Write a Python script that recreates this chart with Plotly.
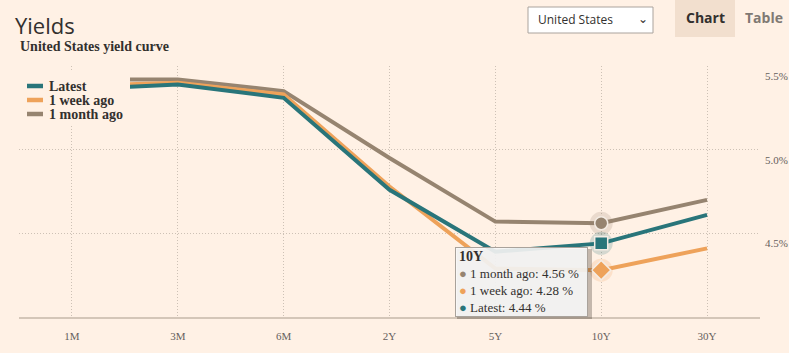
import plotly.graph_objects as go

# ---- data ----
maturities = ["1M", "3M", "6M", "2Y", "5Y", "10Y", "30Y"]
latest = [5.36, 5.39, 5.31, 4.76, 4.39, 4.44, 4.61]
week_ago = [5.38, 5.40, 5.33, 4.78, 4.29, 4.28, 4.41]
month_ago = [5.42, 5.42, 5.35, 4.95, 4.57, 4.56, 4.70]
y_ticks = [4.5, 5.0, 5.5]
hover_cat = "10Y"

BG = "#fff1e5"
C_LATEST = "#29757a"
C_WEEK = "#eea25a"
C_MONTH = "#968470"
GRID = "#cdc1b5"

W, H = 789, 353
ML, MR, MT, MB = 19, 29, 66, 36
PW, PH = W - ML - MR, H - MT - MB


def px(x):
    return (x - ML) / PW


def py(y):
    return (H - MB - y) / PH


series = [
    ("1 month ago", month_ago, C_MONTH, "circle"),
    ("1 week ago", week_ago, C_WEEK, "diamond"),
    ("Latest", latest, C_LATEST, "square"),
]

fig = go.Figure()
for name, vals, col, _ in series:
    fig.add_trace(go.Scatter(x=maturities, y=vals, mode="lines", name=name,
                             line=dict(color=col, width=4),
                             hoverinfo="skip", showlegend=False))

hi = maturities.index(hover_cat)
for name, vals, col, sym in series:
    fig.add_trace(go.Scatter(x=[maturities[hi]], y=[vals[hi]], mode="markers",
                             showlegend=False, hoverinfo="skip",
                             marker=dict(symbol="circle", size=23, color=col, opacity=0.2)))
    fig.add_trace(go.Scatter(x=[maturities[hi]], y=[vals[hi]], mode="markers",
                             showlegend=False, hoverinfo="skip",
                             marker=dict(symbol=sym, size=13 if sym != "diamond" else 15, color=col,
                                         line=dict(color="#f4ece4", width=1.5))))

serif = "Georgia, 'Liberation Serif', 'DejaVu Serif', serif"
sans = "'Segoe UI', 'Open Sans', 'Noto Sans', sans-serif"

fig.update_layout(
    width=W, height=H,
    margin=dict(l=ML, r=MR, t=MT, b=MB, autoexpand=False),
    paper_bgcolor=BG, plot_bgcolor=BG,
    showlegend=False,
    xaxis=dict(type="category", range=[-0.5, 6.5], showgrid=True,
               gridcolor=GRID, griddash="1px,2px", gridwidth=1,
               showline=True, linecolor="#d4c6b8", linewidth=2,
               ticks="", ticklabelstandoff=8, automargin=False,
               tickfont=dict(family=serif, size=11, color="#66605c"),
               zeroline=False, fixedrange=True),
    yaxis=dict(range=[4.0, 5.5], side="right", tickvals=y_ticks,
               ticktext=[f"{v:.1f}%" for v in y_ticks], automargin=False,
               showgrid=True, gridcolor=GRID, griddash="1px,2px", gridwidth=1,
               zeroline=False, ticks="", ticklabelshift=10, ticklabelstandoff=4,
               tickfont=dict(family=serif, size=11, color="#66605c"),
               fixedrange=True),
)

shapes = []
annotations = []

# title + subtitle
annotations.append(dict(xref="paper", yref="paper", x=px(13), y=py(25), xanchor="left", yanchor="middle",
                        text="Yields", showarrow=False,
                        font=dict(family=sans, size=22, color="#33302e")))
annotations.append(dict(xref="paper", yref="paper", x=px(18), y=py(46), xanchor="left", yanchor="middle",
                        text="<b>United States yield curve</b>", showarrow=False,
                        font=dict(family=serif, size=14, color="#33302e")))

# legend box (opaque, covers lines like the original)
shapes.append(dict(type="rect", xref="paper", yref="paper", x0=px(19), x1=px(130), y0=py(124), y1=py(71),
                   fillcolor=BG, line=dict(width=0), layer="above"))
leg_rows = [86, 100, 114]
for (name, vals, col, _), yy in zip(reversed(series), leg_rows):
    shapes.append(dict(type="line", xref="paper", yref="paper", x0=px(27), x1=px(43), y0=py(yy), y1=py(yy),
                       line=dict(color=col, width=4.5), layer="above"))
    annotations.append(dict(xref="paper", yref="paper", x=px(47), y=py(yy), xanchor="left", yanchor="middle",
                            text=f"<b>{name}</b>", showarrow=False,
                            font=dict(family=serif, size=14, color="#33302e")))

# dropdown box
shapes.append(dict(type="rect", xref="paper", yref="paper", x0=px(528), x1=px(653), y0=py(33), y1=py(7),
                   fillcolor="white", line=dict(color="#aaa39d", width=1), layer="above"))
annotations.append(dict(xref="paper", yref="paper", x=px(536), y=py(20), xanchor="left", yanchor="middle",
                        text="United States", showarrow=False,
                        font=dict(family=sans, size=12, color="#33302e")))
annotations.append(dict(xref="paper", yref="paper", x=px(643), y=py(19), xanchor="center", yanchor="middle",
                        text="&#8964;", showarrow=False,
                        font=dict(family=sans, size=12, color="#33302e")))

# Chart / Table tabs
shapes.append(dict(type="rect", xref="paper", yref="paper", x0=px(675), x1=px(735), y0=py(37), y1=py(0),
                   fillcolor="#f2dfce", line=dict(width=0), layer="above"))
annotations.append(dict(xref="paper", yref="paper", x=px(705), y=py(18), xanchor="center", yanchor="middle",
                        text="<b>Chart</b>", showarrow=False,
                        font=dict(family=sans, size=14, color="#33302e")))
annotations.append(dict(xref="paper", yref="paper", x=px(764), y=py(18), xanchor="center", yanchor="middle",
                        text="<b>Table</b>", showarrow=False,
                        font=dict(family=sans, size=14, color="#807973")))

# tooltip
lines = [f"<span style='font-size:14px'><b>{hover_cat}</b></span>"]
for name, vals, col, _ in series:
    lines.append(f"<span style='color:{col}'>●</span> {name}: {vals[hi]:.2f} %")
shapes.append(dict(type="rect", xref="paper", yref="paper", x0=px(457), x1=px(592), y0=py(319), y1=py(249),
                   fillcolor="rgba(60,50,40,0.30)", line=dict(width=0), layer="above"))
annotations.append(dict(xref="paper", yref="paper", x=px(455), y=py(247), xanchor="left", yanchor="top",
                        text="<br>".join(lines), showarrow=False, align="left",
                        width=125, height=62,
                        bgcolor="rgba(247,247,247,0.9)", bordercolor="#a9a29b", borderwidth=1,
                        borderpad=3,
                        font=dict(family=serif, size=13, color="#33302e")))

fig.update_layout(shapes=shapes, annotations=annotations)
fig.write_html("out.html")
